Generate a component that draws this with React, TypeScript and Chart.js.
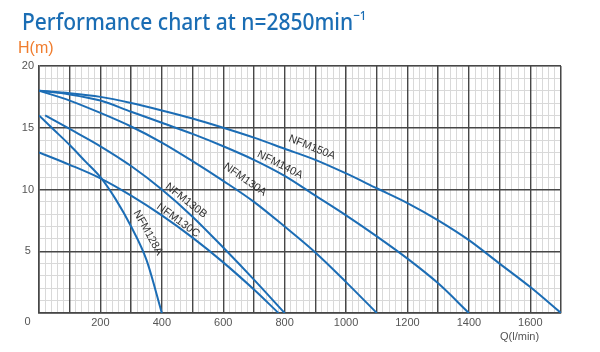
import { useEffect, useRef } from "react";
import { Chart, registerables } from "chart.js";

Chart.register(...registerables);

// ---- data ----
const seriesNames = ["NFM150A", "NFM140A", "NFM130A", "NFM130B", "NFM130C", "NFM128A"];

const nfm150aQ = [0, 100, 200, 300, 400, 500, 600, 700, 800, 900, 1000, 1100, 1200, 1300, 1400, 1500, 1600, 1700];
const nfm150aH = [18, 17.8, 17.5, 17.0, 16.4, 15.75, 15.0, 14.2, 13.3, 12.4, 11.3, 10.1, 8.9, 7.5, 5.9, 4.0, 2.1, 0];

const nfm140aQ = [0, 100, 200, 300, 400, 500, 600, 700, 800, 900, 1000, 1100, 1200, 1300, 1400];
const nfm140aH = [18, 17.7, 17.2, 16.3, 15.4, 14.5, 13.5, 12.4, 11.1, 9.5, 7.9, 6.2, 4.4, 2.4, 0];

const nfm130aQ = [0, 100, 200, 300, 400, 500, 600, 700, 800, 900, 1000, 1100];
const nfm130aH = [18, 17.2, 16.2, 15.1, 13.8, 12.3, 10.7, 9.0, 7.0, 4.9, 2.5, 0];

const nfm130bQ = [20, 100, 200, 300, 400, 500, 600, 700, 800];
const nfm130bH = [16, 14.9, 13.5, 11.9, 10.0, 7.8, 5.3, 2.7, 0];

const nfm130cQ = [0, 100, 200, 300, 400, 500, 600, 700, 780];
const nfm130cH = [13, 12.0, 10.9, 9.5, 7.9, 6.1, 4.1, 1.9, 0];

const nfm128aQ = [0, 50, 100, 150, 200, 250, 300, 350, 400];
const nfm128aH = [16, 14.8, 13.6, 12.3, 11.0, 9.2, 7.0, 4.3, 0];

const seriesQ = [nfm150aQ, nfm140aQ, nfm130aQ, nfm130bQ, nfm130cQ, nfm128aQ];
const seriesH = [nfm150aH, nfm140aH, nfm130aH, nfm130bH, nfm130cH, nfm128aH];

// curve label anchors (data coords) and angles
const labelQ = [889, 785, 671, 479, 453, 355];
const labelH = [13.4, 12.0, 10.8, 9.1, 7.5, 6.5];
const labelAngle = [22, 27, 35, 38, 36, 61];

const xTickLabels = [200, 400, 600, 800, 1000, 1200, 1400, 1600];
const yTickLabels = [5, 10, 15, 20];

const LINE_COLOR = "#1c6db5";
const MAJOR = "#474747";
const MINOR = "#d9d9d9";
const TICK_COLOR = "#555555";
const FONT = "'Liberation Sans', Arial, sans-serif";

const curveLabels = {
  id: "curveLabels",
  afterDatasetsDraw(chart: any) {
    const { ctx, scales } = chart;
    const xs = scales.x;
    const ys = scales.y;
    ctx.save();
    ctx.fillStyle = "#333333";
    ctx.font = `11px ${FONT}`;
    ctx.textAlign = "center";
    ctx.textBaseline = "middle";
    seriesNames.forEach((name, i) => {
      const px = xs.getPixelForValue(labelQ[i]);
      const py = ys.getPixelForValue(labelH[i]);
      ctx.save();
      ctx.translate(px, py);
      ctx.rotate((labelAngle[i] * Math.PI) / 180);
      ctx.fillText(name, 0, 0);
      ctx.restore();
    });
    // shared origin label "0"
    ctx.fillStyle = TICK_COLOR;
    ctx.font = `11px ${FONT}`;
    ctx.fillText("0", chart.chartArea.left - 11.5, chart.chartArea.bottom + 8.5);
    ctx.restore();
  },
};

export default function App() {
  const ref = useRef<HTMLCanvasElement | null>(null);

  useEffect(() => {
    if (!ref.current) return;
    const datasets = seriesNames.map((name, i) => ({
      label: name,
      data: seriesQ[i].map((q, j) => ({ x: q, y: seriesH[i][j] })),
      borderColor: LINE_COLOR,
      borderWidth: 2,
      pointRadius: 0,
      fill: false,
      cubicInterpolationMode: "monotone" as const,
      xAxisID: "x",
      yAxisID: "y",
    }));

    const chart = new Chart(ref.current, {
      type: "line",
      data: { datasets },
      plugins: [curveLabels],
      options: {
        animation: false,
        responsive: false,
        devicePixelRatio: 1,
        layout: { padding: { left: 0, top: 66, right: 39, bottom: 0 } },
        plugins: {
          legend: { display: false },
          tooltip: { enabled: false },
          title: { display: false },
        },
        scales: {
          xMinor: {
            type: "linear",
            axis: "x",
            position: "bottom",
            min: 0,
            max: 1700,
            ticks: { display: false, stepSize: 20, autoSkip: false },
            grid: { color: MINOR, lineWidth: 1, drawTicks: false, z: -2 },
            border: { display: false },
            afterFit: (s: any) => {
              s.height = 0;
            },
          },
          yMinor: {
            type: "linear",
            axis: "y",
            position: "left",
            min: 0,
            max: 20,
            ticks: { display: false, stepSize: 1, autoSkip: false },
            grid: { color: MINOR, lineWidth: 1, drawTicks: false, z: -2 },
            border: { display: false },
            afterFit: (s: any) => {
              s.width = 0;
            },
          },
          x: {
            type: "linear",
            position: "bottom",
            min: 0,
            max: 1700,
            ticks: {
              stepSize: 100,
              autoSkip: false,
              maxRotation: 0,
              minRotation: 0,
              padding: 3,
              color: TICK_COLOR,
              font: { family: FONT, size: 11 },
              callback: (v: any) => (xTickLabels.includes(Number(v)) ? String(v) : ""),
            },
            grid: { color: MAJOR, lineWidth: 1.4, drawTicks: false, z: -1 },
            border: { display: true, color: MAJOR, width: 1.5 },
            afterFit: (s: any) => {
              s.height = 39;
            },
          },
          y: {
            type: "linear",
            position: "left",
            min: 0,
            max: 20,
            ticks: {
              stepSize: 5,
              autoSkip: false,
              padding: 5,
              crossAlign: "center",
              color: TICK_COLOR,
              font: { family: FONT, size: 11 },
              callback: (v: any) => (yTickLabels.includes(Number(v)) ? String(v) : ""),
            },
            grid: { color: MAJOR, lineWidth: 1.4, drawTicks: false, z: -1 },
            border: { display: true, color: MAJOR, width: 1.5 },
            afterFit: (s: any) => {
              s.width = 39;
            },
          },
        },
      },
    } as any);
    return () => chart.destroy();
  }, []);

  return (
    <div style={{ position: "absolute", left: 0, top: 0, width: 600, height: 352, background: "#fff", overflow: "hidden" }}>
      <canvas ref={ref} width={600} height={352} style={{ position: "absolute", left: 0, top: 0, width: 600, height: 352 }} />
      <div
        style={{
          position: "absolute",
          left: 22,
          top: 9,
          fontFamily: "'Noto Sans', sans-serif",
          fontSize: 24,
          lineHeight: "24px",
          fontWeight: 500,
          color: "#1a6db4",
          whiteSpace: "nowrap",
          transform: "scaleX(0.875)",
          transformOrigin: "0 0",
        }}
      >
        Performance chart at n=2850min
        <sup style={{ fontSize: "0.55em", verticalAlign: "0.75em", lineHeight: 0 }}>−1</sup>
      </div>
      <div
        style={{
          position: "absolute",
          left: 18,
          top: 39,
          fontFamily: FONT,
          fontSize: 16,
          lineHeight: "18px",
          color: "#f07d2e",
          whiteSpace: "nowrap",
        }}
      >
        H(m)
      </div>
      <div
        style={{
          position: "absolute",
          left: 500,
          top: 329,
          fontFamily: FONT,
          fontSize: 11,
          lineHeight: "14px",
          color: TICK_COLOR,
          whiteSpace: "nowrap",
        }}
      >
        Q(l/min)
      </div>
    </div>
  );
}
